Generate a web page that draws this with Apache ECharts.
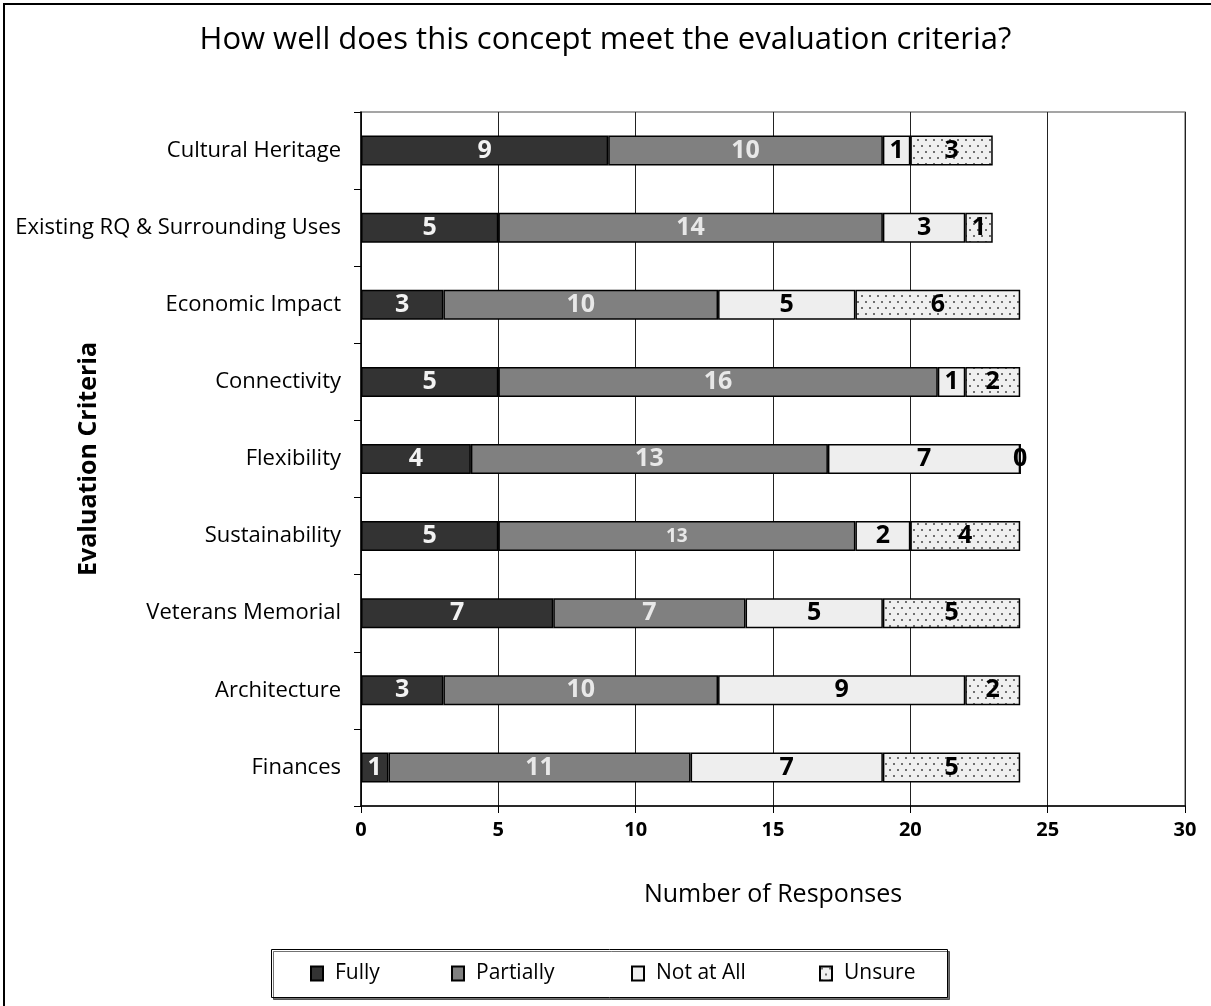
<!DOCTYPE html>
<html>
<head>
<meta charset="utf-8">
<script src="https://cdn.jsdelivr.net/npm/echarts@6/dist/echarts.min.js"></script>
<style>
html,body{margin:0;padding:0;background:#fff;}
#chart{width:1211px;height:1006px;}
</style>
</head>
<body>
<div id="chart"></div>
<script>
const categories = ['Cultural Heritage','Existing RQ & Surrounding Uses','Economic Impact','Connectivity','Flexibility','Sustainability','Veterans Memorial','Architecture','Finances'];
const fully     = [9, 5, 3, 5, 4, 5, 7, 3, 1];
const partially = [10, 14, 10, 16, 13, 13, 7, 10, 11];
const notAtAll  = [1, 3, 5, 1, 7, 2, 5, 9, 7];
const unsure    = [3, 1, 6, 2, 0, 4, 5, 2, 5];
const seriesNames = ['Fully', 'Partially', 'Not at All', 'Unsure'];
const xTicks = [0, 5, 10, 15, 20, 25, 30];

const FONT = '"Open Sans", sans-serif';

// dotted pattern for "Unsure"
const pc = document.createElement('canvas');
pc.width = 8; pc.height = 12;
const pctx = pc.getContext('2d');
pctx.fillStyle = '#f0f0f0';
pctx.fillRect(0, 0, 8, 12);
pctx.fillStyle = '#707070';
pctx.fillRect(1, 1, 2, 2);
pctx.fillRect(5, 7, 2, 2);

function mkSeries(name, data, color, labelColor) {
  return {
    name: name,
    type: 'bar',
    stack: 'total',
    barWidth: 30,
    data: data,
    itemStyle: { color: color, borderColor: '#000', borderWidth: 1.5 },
    label: {
      show: true,
      position: 'inside',
      color: labelColor,
      fontFamily: FONT,
      fontWeight: 'bold',
      fontSize: 25
    },
    emphasis: { disabled: true }
  };
}

const partialData = partially.map((v, i) => i === 5 ? { value: v, label: { fontSize: 19, fontWeight: 'bold' } } : v);

const legendLefts = [310, 451, 631, 819];
const legends = seriesNames.map((n, i) => ({
  left: legendLefts[i],
  top: 963,
  padding: 0,
  itemWidth: 12,
  itemHeight: 14,
  icon: 'rect',
  textStyle: { fontFamily: FONT, fontSize: 21, color: '#000', padding: [0, 0, 0, 7] },
  data: [n]
}));

const chart = echarts.init(document.getElementById('chart'), null, { renderer: 'canvas' });
chart.setOption({
  animation: false,
  backgroundColor: '#fff',
  title: {
    text: 'How well does this concept meet the evaluation criteria?',
    left: 'center',
    top: 20,
    textStyle: { fontFamily: FONT, fontWeight: 'normal', fontSize: 31, color: '#000' }
  },
  graphic: [{
    type: 'rect',
    shape: { x: 4, y: 4, width: 1400, height: 1200 },
    style: { fill: 'none', stroke: '#000', lineWidth: 2 },
    silent: true, z: 0
  }, {
    type: 'rect',
    shape: { x: 271.5, y: 949.5, width: 676, height: 48 },
    style: { fill: '#fff', stroke: '#000', lineWidth: 1, shadowColor: 'rgba(0,0,0,0.55)', shadowOffsetX: 2, shadowOffsetY: 2, shadowBlur: 0 },
    silent: true, z: 0
  }],
  legend: legends,
  grid: {
    left: 361, right: 26, top: 112, bottom: 200,
    containLabel: false,
    outerBoundsMode: 'none',
    show: true, borderColor: '#888', borderWidth: 1.5
  },
  xAxis: {
    type: 'value',
    min: xTicks[0],
    max: xTicks[xTicks.length - 1],
    interval: 5,
    name: 'Number of Responses',
    nameLocation: 'middle',
    nameGap: 76,
    nameMoveOverlap: false,
    nameTextStyle: { fontFamily: FONT, fontSize: 25, color: '#000' },
    axisLine: { show: true, lineStyle: { color: '#000', width: 1.5 } },
    axisTick: { show: true, length: 7, lineStyle: { color: '#000' } },
    axisLabel: { fontFamily: FONT, fontWeight: 'bold', fontSize: 20, color: '#000', margin: 14 },
    splitLine: { show: true, lineStyle: { color: '#222', width: 1 } }
  },
  yAxis: {
    type: 'category',
    data: categories,
    inverse: true,
    name: 'Evaluation Criteria',
    nameLocation: 'middle',
    nameGap: 260,
    nameMoveOverlap: false,
    nameTextStyle: { fontFamily: FONT, fontSize: 25, fontWeight: 'bold', color: '#000' },
    axisLine: { show: true, lineStyle: { color: '#000', width: 1.5 } },
    axisTick: { show: true, length: 7, lineStyle: { color: '#000' } },
    axisLabel: { fontFamily: FONT, fontSize: 22, color: '#000', margin: 20 },
    splitLine: { show: false }
  },
  series: [
    mkSeries(seriesNames[0], fully, '#333333', '#f2f2f2'),
    mkSeries(seriesNames[1], partialData, '#808080', '#e8e8e8'),
    mkSeries(seriesNames[2], notAtAll, '#eeeeee', '#000'),
    mkSeries(seriesNames[3], unsure, { image: pc, repeat: 'repeat' }, '#000')
  ]
});
</script>
</body>
</html>
